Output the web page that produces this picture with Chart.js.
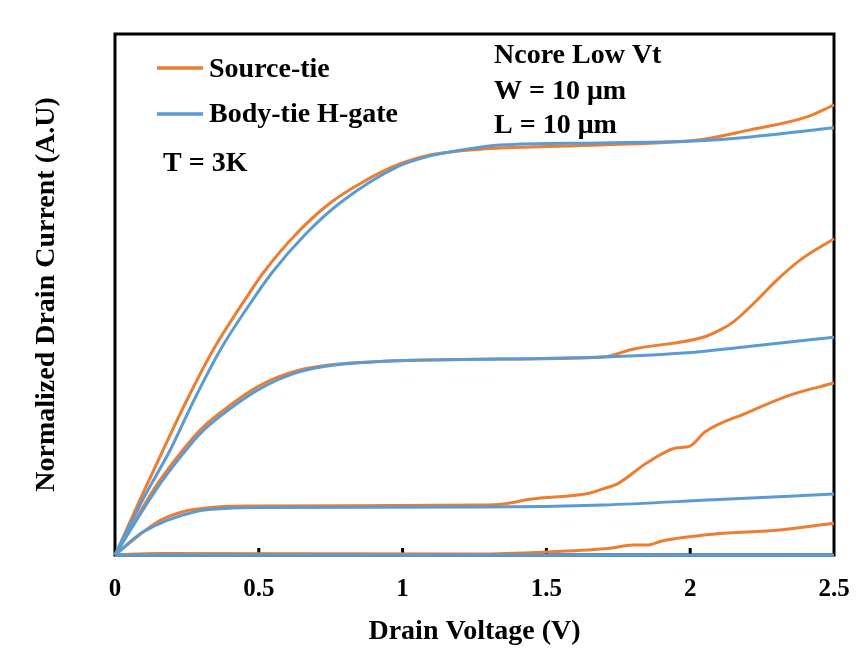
<!DOCTYPE html>
<html lang="en">
<head>
    <meta charset="UTF-8">
    <title>Drain Current vs Drain Voltage</title>
    <script src="https://cdn.jsdelivr.net/npm/chart.js"></script>
    <style>
        body {
            margin: 0;
            padding: 0;
            background: #fff;
        }
        .wrap {
            width: 862px;
            height: 650px;
        }
    </style>
</head>
<body>
    <div class="wrap">
        <canvas id="ivChart"></canvas>
    </div>

    <script>
        // Drain voltage (V) and normalized drain current (A.U)
        const xTickValues = [0, 0.5, 1, 1.5, 2, 2.5];

        const vSrc1 = [0, 0.1, 0.167, 0.25, 0.341, 0.459, 0.515, 0.633, 0.748, 0.862, 0.981, 1.095, 1.165, 1.339, 1.686, 2.034, 2.208, 2.406, 2.5];
        const iSrc1 = [0, 0.122, 0.2015, 0.2975, 0.3935, 0.496, 0.5413, 0.618, 0.6756, 0.716, 0.7486, 0.7678, 0.7735, 0.781, 0.787, 0.797, 0.816, 0.841, 0.864];
        const vBody1 = [0, 0.1, 0.192, 0.275, 0.366, 0.484, 0.545, 0.663, 0.782, 0.981, 1.095, 1.2, 1.339, 1.686, 2.034, 2.2, 2.5];
        const iBody1 = [0, 0.11, 0.2015, 0.2975, 0.3935, 0.494, 0.5413, 0.616, 0.6756, 0.745, 0.766, 0.777, 0.787, 0.791, 0.795, 0.802, 0.820];

        const vSrc2 = [0, 0.146, 0.236, 0.296, 0.365, 0.494, 0.643, 0.876, 1.339, 1.697, 1.8, 2.045, 2.104, 2.149, 2.232, 2.302, 2.382, 2.5];
        const iSrc2 = [0, 0.135, 0.2015, 0.240, 0.2726, 0.3225, 0.355, 0.370, 0.376, 0.380, 0.395, 0.418, 0.432, 0.447, 0.489, 0.528, 0.566, 0.607];
        const vBody2 = [0, 0.146, 0.236, 0.296, 0.365, 0.494, 0.643, 0.876, 1.339, 1.697, 1.99, 2.25, 2.5];
        const iBody2 = [0, 0.128, 0.194, 0.233, 0.266, 0.316, 0.352, 0.370, 0.376, 0.380, 0.388, 0.403, 0.418];

        const vSrc3 = [0, 0.146, 0.236, 0.355, 0.48, 1.27, 1.349, 1.443, 1.652, 1.697, 1.745, 1.85, 1.947, 1.999, 2.051, 2.197, 2.347, 2.5];
        const iSrc3 = [0, 0.063, 0.083, 0.092, 0.094, 0.096, 0.098, 0.107, 0.119, 0.127, 0.136, 0.177, 0.205, 0.209, 0.236, 0.273, 0.307, 0.330];
        const vBody3 = [0, 0.097, 0.285, 0.41, 0.5, 1.27, 1.697, 2.08, 2.5];
        const iBody3 = [0, 0.044, 0.084, 0.090, 0.091, 0.092, 0.096, 0.106, 0.117];

        const vSrc4 = [0, 0.15, 1.27, 1.502, 1.721, 1.80, 1.85, 1.902, 2.079, 2.312, 2.5];
        const iSrc4 = [0, 0.003, 0.002, 0.006, 0.013, 0.019, 0.019, 0.027, 0.040, 0.048, 0.061];
        const vBody4 = [0, 2.5];
        const iBody4 = [0, 0];

        const ORANGE = '#ED7D31';
        const BLUE = '#5B9BD5';
        const SERIF = '"Liberation Serif", "Times New Roman", serif';

        function pts(xs, ys) {
            return xs.map((x, i) => ({ x: x, y: ys[i] }));
        }

        function series(label, xs, ys, color, order) {
            return {
                label: label,
                data: pts(xs, ys),
                borderColor: color,
                backgroundColor: color,
                borderWidth: 3,
                pointRadius: 0,
                cubicInterpolationMode: 'monotone',
                clip: false,
                order: order
            };
        }

        // frame, inward tick marks, legend and notes
        const decor = {
            id: 'decor',
            beforeDatasetsDraw(chart) {
                const { ctx, chartArea: a, scales: { x } } = chart;
                ctx.save();
                ctx.strokeStyle = '#000';
                ctx.lineWidth = 3;
                ctx.strokeRect(a.left, a.top, a.right - a.left, a.bottom - a.top);
                xTickValues.slice(1, -1).forEach(v => {
                    const px = x.getPixelForValue(v);
                    ctx.beginPath();
                    ctx.moveTo(px, a.bottom);
                    ctx.lineTo(px, a.bottom - 7);
                    ctx.stroke();
                });
                ctx.restore();
            },
            afterDraw(chart) {
                const ctx = chart.ctx;
                ctx.save();
                ctx.font = 'bold 28px ' + SERIF;
                ctx.fillStyle = '#000';
                ctx.textBaseline = 'alphabetic';

                ctx.lineWidth = 3.5;
                ctx.strokeStyle = ORANGE;
                ctx.beginPath(); ctx.moveTo(157, 68); ctx.lineTo(203, 68); ctx.stroke();
                ctx.fillText('Source-tie', 209, 77);

                ctx.strokeStyle = BLUE;
                ctx.beginPath(); ctx.moveTo(157, 114); ctx.lineTo(203, 114); ctx.stroke();
                ctx.fillText('Body-tie H-gate', 209, 122);

                ctx.fillText('T = 3K', 163, 171);

                ctx.fillText('Ncore Low Vt', 494, 63);
                ctx.fillText('W = 10 \u03bcm', 494, 99);
                ctx.fillText('L = 10 \u03bcm', 494, 133);
                ctx.restore();
            }
        };

        const ctx = document.getElementById('ivChart').getContext('2d');
        new Chart(ctx, {
            type: 'line',
            data: {
                datasets: [
                    series('Source-tie', vSrc1, iSrc1, ORANGE, 1),
                    series('Source-tie', vSrc2, iSrc2, ORANGE, 1),
                    series('Source-tie', vSrc3, iSrc3, ORANGE, 1),
                    series('Source-tie', vSrc4, iSrc4, ORANGE, 1),
                    series('Body-tie H-gate', vBody1, iBody1, BLUE, 0),
                    series('Body-tie H-gate', vBody2, iBody2, BLUE, 0),
                    series('Body-tie H-gate', vBody3, iBody3, BLUE, 0),
                    series('Body-tie H-gate', vBody4, iBody4, BLUE, 0)
                ]
            },
            options: {
                responsive: true,
                maintainAspectRatio: false,
                animation: false,
                layout: {
                    padding: { left: 20, right: 28, top: 34, bottom: 0 }
                },
                plugins: {
                    legend: { display: false },
                    tooltip: { enabled: false }
                },
                scales: {
                    x: {
                        type: 'linear',
                        min: 0,
                        max: 2.5,
                        afterBuildTicks(scale) {
                            scale.ticks = xTickValues.map(v => ({ value: v }));
                        },
                        afterFit(scale) {
                            scale.height = 95;
                            scale.paddingLeft = 0;
                            scale.paddingRight = 0;
                        },
                        grid: { display: false, drawTicks: false },
                        border: { display: false },
                        ticks: {
                            color: '#000',
                            padding: 20,
                            maxRotation: 0,
                            callback: v => String(v),
                            font: { family: SERIF, size: 25, weight: 'bold' }
                        },
                        title: {
                            display: true,
                            text: 'Drain Voltage (V)',
                            color: '#000',
                            padding: { top: 0, bottom: 1 },
                            font: { family: SERIF, size: 28, weight: 'bold' }
                        }
                    },
                    y: {
                        min: 0,
                        max: 1,
                        afterFit(scale) { scale.width = 95; },
                        grid: { display: false, drawTicks: false },
                        border: { display: false },
                        ticks: { display: false },
                        title: {
                            display: true,
                            text: 'Normalized Drain Current (A.U)',
                            color: '#000',
                            padding: { top: 10, bottom: 0 },
                            font: { family: SERIF, size: 28, weight: 'bold' }
                        }
                    }
                }
            },
            plugins: [decor]
        });
    </script>
</body>
</html>
